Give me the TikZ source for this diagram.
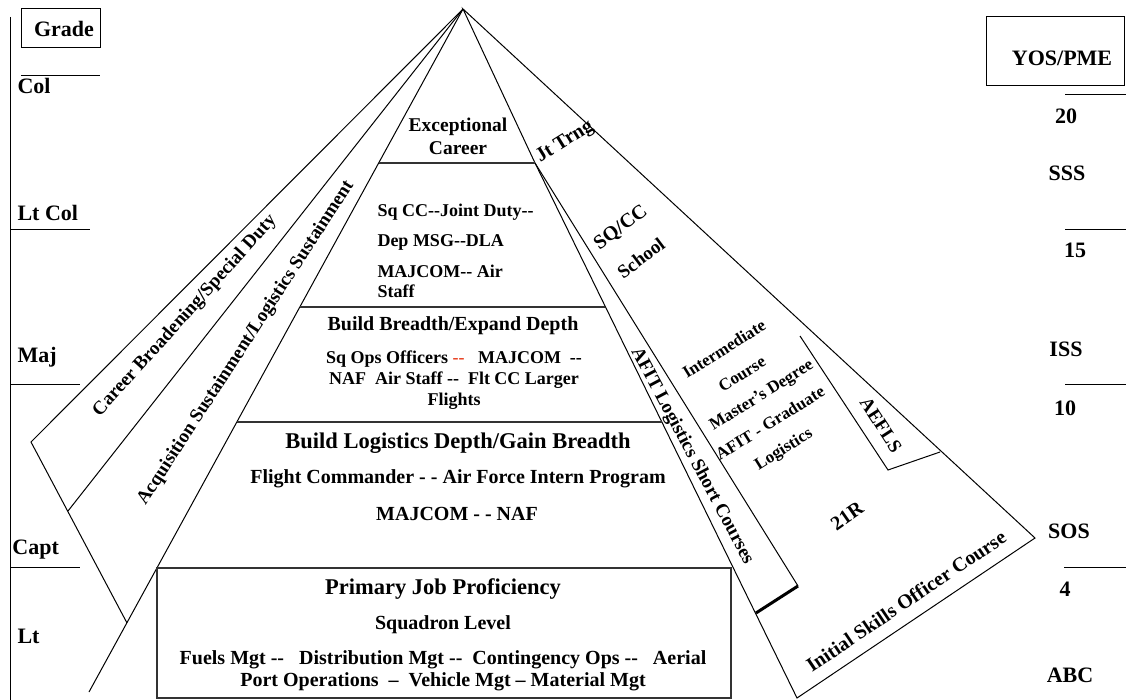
\documentclass[tikz,border=0pt]{standalone}
\usepackage{fontspec}
\setmainfont{Liberation Serif}[Ligatures=TeXOff]
\definecolor{dashred}{RGB}{232,70,40}

\begin{document}
\begin{tikzpicture}[x=1pt,y=-1pt,line width=1pt,
  gradetxt/.style={font=\bfseries\fontsize{22}{24}\selectfont,inner sep=0pt},
  bodytxt/.style={font=\bfseries\fontsize{20}{22}\selectfont,inner sep=0pt,align=center},
  headtxt/.style={font=\bfseries\fontsize{22.5}{25}\selectfont,inner sep=0pt},
  smalltxt/.style={font=\bfseries\fontsize{18}{20}\selectfont,inner sep=0pt,align=center},
  bandtxt/.style={font=\bfseries\fontsize{19}{21}\selectfont,inner sep=0pt},
  coursetxt/.style={font=\bfseries\fontsize{17}{19}\selectfont,inner sep=0pt,rotate=32},
  tier/.style={line width=1.4pt,black!80}]
  \useasboundingbox (0,0) rectangle (1126,700);

  \coordinate (apex) at (463,9);
  \coordinate (cbL) at (31,442);
  \coordinate (cbB) at (127,623);
  \coordinate (acqB) at (68,511);
  \coordinate (pyrL) at (89,692);
  \coordinate (pyrK) at (535,163);
  \coordinate (pyrR) at (797,698);
  \coordinate (outR) at (1035,538);
  \coordinate (afitB) at (798,586);
  \coordinate (afitL) at (756,613);

  % grade column
  \draw (10,17) -- (10,700);
  \draw (21,9) rectangle (100,48);
  \node[gradetxt] (grade) at (64,29) {Grade};
  \draw (21,76) -- (100,76);
  \node[gradetxt,anchor=west] (col) at (17,86) {Col};
  \node[gradetxt,anchor=west] (ltcol) at (17,213) {Lt Col};
  \draw (10,230) -- (90,230);
  \node[gradetxt,anchor=west] (maj) at (17,357) {Maj};
  \draw (10,384) -- (80,384);
  \node[gradetxt,anchor=west] (capt) at (12,550) {Capt};
  \draw (10,567) -- (80,567);
  \node[gradetxt,anchor=west] (lt) at (17,636) {Lt};

  % YOS/PME column
  \draw (986,17) rectangle (1124,86);
  \node[gradetxt] (yos) at (1062,58) {YOS/PME};
  \draw (1065,95) -- (1126,95);
  \node[gradetxt] (y20) at (1066,116) {20};
  \node[gradetxt] (sss) at (1067,173) {SSS};
  \draw (1065,230) -- (1126,230);
  \node[gradetxt] (y15) at (1075,250) {15};
  \node[gradetxt] (iss) at (1066,349) {ISS};
  \draw (1065,384) -- (1126,384);
  \node[gradetxt] (y10) at (1065,408) {10};
  \node[gradetxt] (sos) at (1069,531) {SOS};
  \draw (1064,567) -- (1126,567);
  \node[gradetxt] (y4) at (1065,589) {4};
  \node[gradetxt] (abc) at (1070,675) {ABC};

  % left bands
  \draw (apex) -- (cbL) -- (cbB);
  \draw (apex) -- (acqB);
  \draw (apex) -- (pyrL);
  \node[bandtxt,rotate=48] (career) at (185,316) {Career Broadening/Special Duty};
  \node[bandtxt,rotate=57] (acq) at (246,343) {Acquisition Sustainment/Logistics Sustainment};

  % right bands
  \draw (apex) -- (pyrK) -- (pyrR) -- (outR) -- cycle;
  \draw (pyrK) -- (afitB);
  \draw[line width=3pt] (afitB) -- (afitL);
  \draw (800,336) -- (888,470) -- (940,452);
  \node[bandtxt,rotate=-62] (afit) at (692,456) {AFIT Logistics Short Courses};
  \node[bandtxt,font=\bfseries\fontsize{20}{22}\selectfont,rotate=32] (jttrng) at (565,142) {Jt Trng};
  \node[bandtxt,font=\bfseries\fontsize{20}{22}\selectfont,rotate=37] (sqccs) at (621,228) {SQ/CC};
  \node[bandtxt,rotate=37] (school) at (641,258) {School};
  \node[coursetxt] (interm) at (724,349) {Intermediate};
  \node[coursetxt] (course) at (742,374) {Course};
  \node[coursetxt] (master) at (762,396) {Master’s Degree};
  \node[coursetxt] (afitgrad) at (770,423) {AFIT - Graduate};
  \node[coursetxt] (logist) at (784,450) {Logistics};
  \node[bandtxt,rotate=-57] (aefls) at (881,425) {AEFLS};
  \node[bandtxt,font=\bfseries\fontsize{20}{22}\selectfont,rotate=35] (r21) at (847,516) {21R};
  \node[bandtxt,font=\bfseries\fontsize{20}{22}\selectfont,rotate=34] (isoc) at (906,601) {Initial Skills Officer Course};

  % pyramid tiers
  \draw[tier] (379,163) -- (pyrK);
  \draw[tier] (300,307) -- (605,307);
  \draw[tier] (237,422) -- (662,422);
  \draw[tier] (157,568) rectangle (731,698);

  \node[bodytxt,font=\bfseries\fontsize{19.5}{23}\selectfont] (except) at (458,136) {Exceptional\\Career};
  \node[smalltxt,anchor=west] (sqcc) at (377,212) {Sq CC--Joint Duty--};
  \node[smalltxt,anchor=west] (depmsg) at (377,242) {Dep MSG--DLA};
  \node[smalltxt,anchor=north west,align=left] (majcom) at (377,265) {MAJCOM-- Air\\Staff};
  \node[bodytxt] (breadth) at (453,326) {Build Breadth/Expand Depth};
  \node[smalltxt,font=\bfseries\fontsize{18}{21}\selectfont] (sqops) at (454,380)
    {Sq Ops Officers \textcolor{dashred}{--}\ \ \ MAJCOM\ \ --\\NAF\ \ Air Staff --\ \ Flt CC Larger\\Flights};
  \node[headtxt] (logdepth) at (458,443) {Build Logistics Depth/Gain Breadth};
  \node[bodytxt] (fltcc) at (458,479) {Flight Commander - - Air Force Intern Program};
  \node[bodytxt] (majnaf) at (457,514) {MAJCOM - - NAF};
  \node[headtxt] (primary) at (443,589) {Primary Job Proficiency};
  \node[bodytxt] (sqdn) at (443,625) {Squadron Level};
  \node[bodytxt] (fuels) at (443,671)
    {Fuels Mgt --\ \ \ Distribution Mgt --\ \ Contingency Ops --\ \ \ Aerial\\Port Operations\ \ –\ \ Vehicle Mgt – Material Mgt};
\end{tikzpicture}
\end{document}
